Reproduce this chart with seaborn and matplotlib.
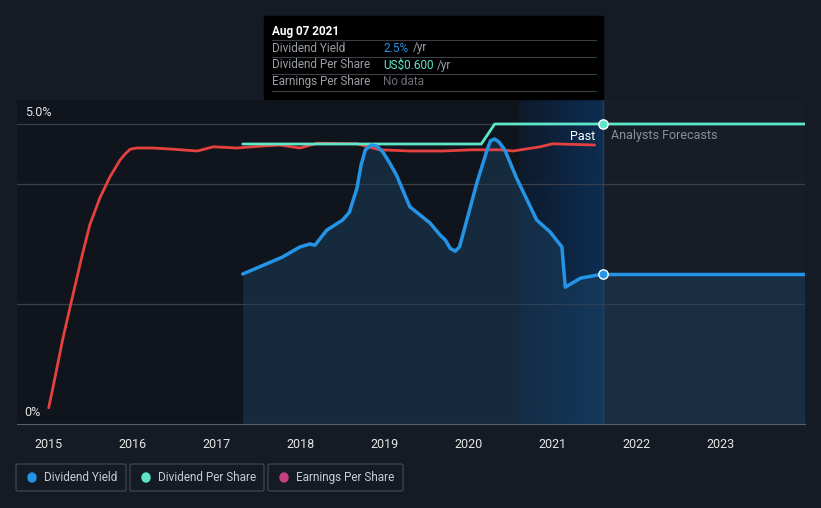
import numpy as np
import pandas as pd
import matplotlib.pyplot as plt
import seaborn as sns
from matplotlib.patches import FancyBboxPatch, Rectangle, Ellipse
from matplotlib.colors import LinearSegmentedColormap

# --- data ---
yield_years = [2017.31, 2017.78, 2017.99, 2018.11, 2018.17, 2018.31, 2018.50, 2018.58,
               2018.67, 2018.72, 2018.77, 2018.84, 2018.91, 2018.98, 2019.06, 2019.14,
               2019.30, 2019.54, 2019.66, 2019.72, 2019.78, 2019.84, 2019.89, 2019.93,
               2020.10, 2020.22, 2020.26, 2020.31, 2020.36, 2020.43, 2020.57, 2020.81,
               2020.97, 2021.11, 2021.15, 2021.33, 2021.60]
yield_vals = [2.50, 2.78, 2.95, 3.00, 2.98, 3.23, 3.40, 3.53,
              3.93, 4.32, 4.57, 4.65, 4.63, 4.53, 4.35, 4.15,
              3.62, 3.35, 3.15, 3.07, 2.93, 2.88, 2.95, 3.15,
              4.03, 4.57, 4.72, 4.75, 4.70, 4.57, 4.10, 3.40,
              3.20, 2.95, 2.28, 2.43, 2.50]
yield_forecast_years = [2021.60, 2024.0]
yield_forecast_vals = [2.50, 2.50]

dps_years = [2017.31, 2020.15, 2020.31, 2021.60, 2024.0]
dps_vals = [0.56, 0.56, 0.60, 0.60, 0.60]  # US$

eps_years = [2015.00, 2015.05, 2015.17, 2015.28, 2015.40, 2015.49, 2015.61, 2015.73,
             2015.85, 2015.91, 2015.97, 2016.05, 2016.24, 2016.48, 2016.77, 2016.96,
             2017.24, 2017.52, 2017.75, 2017.99, 2018.20, 2018.67, 2018.94, 2019.30,
             2019.69, 2020.05, 2020.37, 2020.53, 2020.85, 2021.00, 2021.50]
eps_vals = [0.27, 0.60, 1.43, 2.10, 2.82, 3.32, 3.77, 4.12,
            4.40, 4.50, 4.58, 4.60, 4.60, 4.58, 4.55, 4.62,
            4.60, 4.63, 4.65, 4.60, 4.68, 4.67, 4.57, 4.55,
            4.55, 4.57, 4.57, 4.55, 4.62, 4.67, 4.65]

year_ticks = [2015, 2016, 2017, 2018, 2019, 2020, 2021, 2022, 2023]
today = 2021.60
dps_scale = 5.0 / 0.60  # DPS drawn on the yield scale, US$0.60 at the 5.0% line

BG = '#151b24'
BLUE = '#2394e6'
TEAL = '#5ee6c8'
RED = '#e5413f'
PINK = '#c2417f'

yield_df = pd.DataFrame({'year': yield_years, 'value': yield_vals})
yield_fc = pd.DataFrame({'year': yield_forecast_years, 'value': yield_forecast_vals})
dps_df = pd.DataFrame({'year': dps_years, 'value': np.array(dps_vals) * dps_scale})
eps_df = pd.DataFrame({'year': eps_years, 'value': eps_vals})

sns.set_style('dark')
plt.rcParams['font.family'] = ['Roboto', 'DejaVu Sans']

fig = plt.figure(figsize=(8.21, 5.08), dpi=100, facecolor=BG)
ax = fig.add_axes([17 / 821, 1 - 424 / 508, (805 - 17) / 821, (424 - 100) / 508])
ax.set_facecolor('#161d27')
x0, x1 = 2014.623, 2024.004
ax.set_xlim(x0, x1)
ax.set_ylim(0, 5.4)

# past region + highlight gradient
ax.axvspan(x0, today, color='#10151d', zorder=0, lw=0)
grad = np.linspace(0, 1, 256).reshape(1, -1)
cmap = LinearSegmentedColormap.from_list('g', ['#0d1a2b', '#0d2d52'])
ax.imshow(grad, extent=[2020.60, today, 0, 5.4], aspect='auto', cmap=cmap, zorder=0.5)
ax.axvline(today, color='#1f3f66', lw=1, zorder=1)

for g in [2.0, 4.0, 5.0]:
    ax.axhline(g, color='#3a404a', lw=0.9, zorder=1)

# fill under yield
all_y = yield_years + yield_forecast_years[1:]
all_v = yield_vals + yield_forecast_vals[1:]
ax.fill_between(all_y, all_v, 0, color='#1d4466', alpha=0.45, lw=0, zorder=2)

sns.lineplot(data=eps_df, x='year', y='value', ax=ax, color=RED, lw=2, zorder=3)
sns.lineplot(data=dps_df, x='year', y='value', ax=ax, color=TEAL, lw=2, zorder=4)
sns.lineplot(data=yield_df, x='year', y='value', ax=ax, color=BLUE, lw=2.5, zorder=5)
sns.lineplot(data=yield_fc, x='year', y='value', ax=ax, color=BLUE, lw=2.5, zorder=5)

ax.scatter([today], [yield_forecast_vals[0]], s=45, color=BLUE, edgecolor='white', lw=1, zorder=6)
ax.scatter([today], [dps_vals[-1] * dps_scale], s=45, color=TEAL, edgecolor='white', lw=1, zorder=6)

ax.set_xticks(year_ticks)
ax.set_xticklabels([str(y) for y in year_ticks], color='#e6e6e6', fontsize=9)
ax.set_yticks([])
ax.set_xlabel('')
ax.set_ylabel('')
ax.tick_params(axis='x', length=4, color='#5a606a', pad=6)
for s in ['top', 'right', 'left']:
    ax.spines[s].set_visible(False)
ax.spines['bottom'].set_color('#5a606a')
ax.spines['bottom'].set_visible(True)
ax.grid(False)

# axis labels
fig.text(25 / 821, 1 - 112 / 508, '5.0%', color='#e6e6e6', fontsize=9, va='center')
fig.text(24 / 821, 1 - 412 / 508, '0%', color='#e6e6e6', fontsize=9, va='center')
fig.text(595 / 821, 1 - 136 / 508, 'Past', color='#ffffff', fontsize=9, va='center', ha='right')
fig.text(611 / 821, 1 - 136 / 508, 'Analysts Forecasts', color='#8a9099', fontsize=9, va='center')

# tooltip
fig.patches.append(Rectangle((264 / 821, 1 - 99 / 508), (603 - 264) / 821, 83 / 508,
                             transform=fig.transFigure, color='#000000', zorder=10))
fig.text(272 / 821, 1 - 31 / 508, 'Aug 07 2021', color='white', fontsize=8.5, fontweight='bold', va='center', zorder=11)
rows = [('Dividend Yield', '2.5%', BLUE, 413), ('Dividend Per Share', 'US$0.600', TEAL, 437),
        ('Earnings Per Share', 'No data', '#6a6e75', None)]
for i, (lab, val, col, unit_x) in enumerate(rows):
    yy = 48 + i * 17
    fig.text(272 / 821, 1 - yy / 508, lab, color='#9a9ea5', fontsize=8.5, va='center', zorder=11)
    fig.text(383 / 821, 1 - yy / 508, val, color=col, fontsize=8.5, va='center', zorder=11)
    if unit_x:
        fig.text(unit_x / 821, 1 - yy / 508, '/yr', color='#9a9ea5', fontsize=8.5, va='center', zorder=11)
for yy in [40, 57, 74, 91]:
    fig.lines.append(plt.Line2D([272 / 821, 596 / 821], [1 - yy / 508] * 2, transform=fig.transFigure,
                                color='#3a3e45', lw=0.8, zorder=11))

# legend boxes
legend = [('Dividend Yield', BLUE, 16, 126), ('Dividend Per Share', TEAL, 130, 264), ('Earnings Per Share', PINK, 268, 403)]
for lab, col, lx, rx in legend:
    fig.patches.append(FancyBboxPatch((lx / 821, 1 - 491 / 508), (rx - lx) / 821, 27 / 508,
                                      boxstyle='round,pad=0,rounding_size=0.003', transform=fig.transFigure,
                                      facecolor=BG, edgecolor='#3d434c', lw=1))
    fig.patches.append(Ellipse(((lx + 16) / 821, 1 - 477.5 / 508), 8 / 821, 9 / 508,
                               transform=fig.transFigure, color=col))
    fig.text((lx + 28) / 821, 1 - 477.5 / 508, lab, color='#c8ccd2', fontsize=8.5, va='center')

fig.savefig('out.png', dpi=100, facecolor=BG)
